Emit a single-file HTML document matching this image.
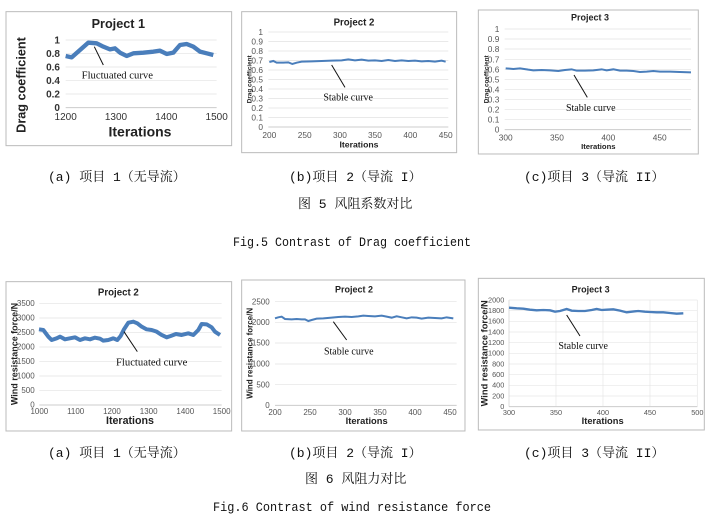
<!DOCTYPE html>
<html><head><meta charset="utf-8"><style>
html,body{margin:0;padding:0;background:#fff;}
svg{display:block;}
.t{font-family:"Liberation Sans",sans-serif;font-weight:bold;fill:#222;}
.k{font-family:"Liberation Sans",sans-serif;fill:#555;}
.s{font-family:"Liberation Serif",serif;fill:#111;}
.c{font-family:"Liberation Mono","Noto Serif CJK SC",monospace;font-size:13px;fill:#111;}
</style></head><body>
<svg width="713" height="522" viewBox="0 0 713 522" xmlns="http://www.w3.org/2000/svg">
<!-- Top a -->
<g transform="scale(0.3333)">
<rect x="18" y="35" width="677" height="402" fill="#fff" stroke="#bbb" stroke-width="3"/>
<g stroke="#e2e2e2" stroke-width="2"><line x1="197" y1="120" x2="650" y2="120"/><line x1="197" y1="161" x2="650" y2="161"/><line x1="197" y1="201" x2="650" y2="201"/><line x1="197" y1="242" x2="650" y2="242"/><line x1="197" y1="282" x2="650" y2="282"/></g>
<line x1="197" y1="323" x2="650" y2="323" stroke="#ccc" stroke-width="3"/>
<g class="k" font-size="30" text-anchor="end" style="font-weight:bold;fill:#333"><text x="180" y="130">1</text><text x="180" y="171">0.8</text><text x="180" y="211">0.6</text><text x="180" y="252">0.4</text><text x="180" y="292">0.2</text><text x="180" y="333">0</text></g>
<g class="k" font-size="30" text-anchor="middle" style="fill:#333"><text x="197" y="360">1200</text><text x="348" y="360">1300</text><text x="499" y="360">1400</text><text x="650" y="360">1500</text></g>
<text class="t" x="355" y="84" font-size="38" text-anchor="middle">Project 1</text>
<text class="t" x="420" y="410" font-size="42" text-anchor="middle">Iterations</text>
<text class="t" font-size="38" text-anchor="middle" transform="translate(77,255) rotate(-90)">Drag coefficient</text>
<polyline fill="none" stroke="#4a7ebb" stroke-width="13" stroke-linejoin="round" points="197,168 215,172 240,150 265,128 290,130 310,140 330,148 345,145 360,158 380,168 400,160 430,158 460,155 480,152 500,162 520,158 540,135 560,132 580,140 600,155 620,160 640,165"/>
<line x1="283" y1="140" x2="310" y2="195" stroke="#111" stroke-width="3"/>
<text class="s" x="245" y="236" font-size="32">Fluctuated curve</text>
</g>
<!-- Top b -->
<g transform="translate(235,0) scale(0.3333)">
<rect x="20" y="35" width="645" height="423" fill="#fff" stroke="#bbb" stroke-width="3"/>
<g stroke="#e2e2e2" stroke-width="2"><line x1="100" y1="96" x2="640" y2="96"/><line x1="100" y1="124.5" x2="640" y2="124.5"/><line x1="100" y1="153" x2="640" y2="153"/><line x1="100" y1="181.5" x2="640" y2="181.5"/><line x1="100" y1="210" x2="640" y2="210"/><line x1="100" y1="238.5" x2="640" y2="238.5"/><line x1="100" y1="267" x2="640" y2="267"/><line x1="100" y1="295.5" x2="640" y2="295.5"/><line x1="100" y1="324" x2="640" y2="324"/><line x1="100" y1="352.5" x2="640" y2="352.5"/></g>
<line x1="100" y1="381" x2="640" y2="381" stroke="#ccc" stroke-width="3"/>
<g class="k" font-size="25" text-anchor="end"><text x="84" y="105">1</text><text x="84" y="133">0.9</text><text x="84" y="162">0.8</text><text x="84" y="190">0.7</text><text x="84" y="219">0.6</text><text x="84" y="247">0.5</text><text x="84" y="276">0.4</text><text x="84" y="304">0.3</text><text x="84" y="333">0.2</text><text x="84" y="361">0.1</text><text x="84" y="390">0</text></g>
<g class="k" font-size="25" text-anchor="middle"><text x="103" y="414">200</text><text x="209" y="414">250</text><text x="315" y="414">300</text><text x="420" y="414">350</text><text x="526" y="414">400</text><text x="632" y="414">450</text></g>
<text class="t" x="357" y="77" font-size="29" text-anchor="middle">Project 2</text>
<text class="t" x="372" y="442" font-size="26" text-anchor="middle">Iterations</text>
<text class="t" font-size="19" text-anchor="middle" transform="translate(50,238) rotate(-90)">Drag coefficient</text>
<polyline fill="none" stroke="#4a7ebb" stroke-width="6" points="103,186 115,183 125,188 145,188 160,187 172,192 185,188 200,185 230,184 260,183 290,182 320,181 340,178 360,181 380,179 400,182 420,181 440,183 460,180 480,183 500,181 520,183 540,182 560,184 580,183 600,185 620,182 632,185"/>
<line x1="290" y1="195" x2="330" y2="262" stroke="#111" stroke-width="3"/>
<text class="s" x="265" y="302" font-size="30">Stable curve</text>
</g>
<!-- Top c -->
<g transform="translate(470,0) scale(0.3333)">
<rect x="25" y="30" width="660" height="432" fill="#fff" stroke="#bbb" stroke-width="3"/>
<g stroke="#e2e2e2" stroke-width="2"><line x1="104" y1="87" x2="663" y2="87"/><line x1="104" y1="117" x2="663" y2="117"/><line x1="104" y1="147" x2="663" y2="147"/><line x1="104" y1="178" x2="663" y2="178"/><line x1="104" y1="208" x2="663" y2="208"/><line x1="104" y1="238" x2="663" y2="238"/><line x1="104" y1="268" x2="663" y2="268"/><line x1="104" y1="298" x2="663" y2="298"/><line x1="104" y1="329" x2="663" y2="329"/><line x1="104" y1="359" x2="663" y2="359"/></g>
<line x1="104" y1="389" x2="663" y2="389" stroke="#ccc" stroke-width="3"/>
<g class="k" font-size="25" text-anchor="end"><text x="88" y="96">1</text><text x="88" y="126">0.9</text><text x="88" y="156">0.8</text><text x="88" y="187">0.7</text><text x="88" y="217">0.6</text><text x="88" y="247">0.5</text><text x="88" y="277">0.4</text><text x="88" y="307">0.3</text><text x="88" y="338">0.2</text><text x="88" y="368">0.1</text><text x="88" y="398">0</text></g>
<g class="k" font-size="25" text-anchor="middle"><text x="107" y="422">300</text><text x="261" y="422">350</text><text x="415" y="422">400</text><text x="569" y="422">450</text></g>
<text class="t" x="360" y="62" font-size="27" text-anchor="middle">Project 3</text>
<text class="t" x="385" y="447" font-size="23" text-anchor="middle">Iterations</text>
<text class="t" font-size="19" text-anchor="middle" transform="translate(55,238) rotate(-90)">Drag coefficient</text>
<polyline fill="none" stroke="#4a7ebb" stroke-width="6" points="107,205 130,207 150,205 175,209 190,211 215,210 240,211 265,213 285,210 305,208 320,212 345,212 370,211 395,208 410,211 430,208 450,212 470,212 490,213 510,216 530,215 550,213 570,215 600,215 630,216 663,217"/>
<line x1="312" y1="225" x2="352" y2="292" stroke="#111" stroke-width="3"/>
<text class="s" x="288" y="333" font-size="30">Stable curve</text>
</g>
<!-- Bottom a -->
<g transform="translate(0,270) scale(0.3333)">
<rect x="18" y="35" width="677" height="448" fill="#fff" stroke="#bbb" stroke-width="3"/>
<g stroke="#e2e2e2" stroke-width="2"><line x1="118" y1="100" x2="665" y2="100"/><line x1="118" y1="144" x2="665" y2="144"/><line x1="118" y1="187" x2="665" y2="187"/><line x1="118" y1="231" x2="665" y2="231"/><line x1="118" y1="274" x2="665" y2="274"/><line x1="118" y1="318" x2="665" y2="318"/><line x1="118" y1="361" x2="665" y2="361"/></g>
<line x1="118" y1="405" x2="665" y2="405" stroke="#ccc" stroke-width="3"/>
<g class="k" font-size="24" text-anchor="end"><text x="104" y="108">3500</text><text x="104" y="152">3000</text><text x="104" y="195">2500</text><text x="104" y="239">2000</text><text x="104" y="282">1500</text><text x="104" y="326">1000</text><text x="104" y="369">500</text><text x="104" y="413">0</text></g>
<g class="k" font-size="24" text-anchor="middle"><text x="118" y="432">1000</text><text x="227" y="432">1100</text><text x="336" y="432">1200</text><text x="446" y="432">1300</text><text x="556" y="432">1400</text><text x="665" y="432">1500</text></g>
<text class="t" x="355" y="76" font-size="29" text-anchor="middle">Project 2</text>
<text class="t" x="390" y="462" font-size="32" text-anchor="middle">Iterations</text>
<text class="t" font-size="27" text-anchor="middle" transform="translate(52,252) rotate(-90)">Wind resistance force/N</text>
<polyline fill="none" stroke="#4a7ebb" stroke-width="12" stroke-linejoin="round" points="117,178 130,180 145,200 155,210 170,205 180,200 195,208 210,205 225,202 240,210 255,205 270,208 285,203 300,206 310,212 325,210 340,205 352,210 362,198 372,178 385,158 400,155 412,160 425,170 440,178 455,180 470,185 485,195 500,202 512,198 528,192 545,195 565,190 580,195 595,180 605,162 620,163 635,172 645,185 660,195"/>
<line x1="372" y1="185" x2="412" y2="245" stroke="#111" stroke-width="3"/>
<text class="s" x="348" y="287" font-size="32">Fluctuated curve</text>
</g>
<!-- Bottom b -->
<g transform="translate(235,275) scale(0.3333)">
<rect x="20" y="15" width="670" height="453" fill="#fff" stroke="#bbb" stroke-width="3"/>
<g stroke="#e2e2e2" stroke-width="2"><line x1="120" y1="80" x2="665" y2="80"/><line x1="120" y1="142" x2="665" y2="142"/><line x1="120" y1="204" x2="665" y2="204"/><line x1="120" y1="267" x2="665" y2="267"/><line x1="120" y1="329" x2="665" y2="329"/></g>
<line x1="120" y1="391" x2="665" y2="391" stroke="#ccc" stroke-width="3"/>
<g class="k" font-size="24" text-anchor="end"><text x="104" y="88">2500</text><text x="104" y="150">2000</text><text x="104" y="212">1500</text><text x="104" y="275">1000</text><text x="104" y="337">500</text><text x="104" y="399">0</text></g>
<g class="k" font-size="24" text-anchor="middle"><text x="120" y="420">200</text><text x="225" y="420">250</text><text x="330" y="420">300</text><text x="435" y="420">350</text><text x="540" y="420">400</text><text x="645" y="420">450</text></g>
<text class="t" x="357" y="52" font-size="27" text-anchor="middle">Project 2</text>
<text class="t" x="395" y="447" font-size="28" text-anchor="middle">Iterations</text>
<text class="t" font-size="24" text-anchor="middle" transform="translate(52,235) rotate(-90)">Wind resistance force/N</text>
<polyline fill="none" stroke="#4a7ebb" stroke-width="6" points="120,130 130,127 140,125 150,132 170,133 185,132 200,133 210,133 220,138 230,135 245,131 265,130 290,128 310,126 330,125 350,126 370,124 385,122 400,123 420,124 440,122 455,125 470,128 485,124 500,127 515,130 530,127 545,128 560,131 580,128 600,129 620,130 635,127 655,130"/>
<line x1="295" y1="140" x2="335" y2="195" stroke="#111" stroke-width="3"/>
<text class="s" x="267" y="238" font-size="30">Stable curve</text>
</g>
<!-- Bottom c -->
<g transform="translate(470,275) scale(0.3333)">
<rect x="25" y="10" width="678" height="455" fill="#fff" stroke="#bbb" stroke-width="3"/>
<g stroke="#e6e6e6" stroke-width="2"><line x1="117" y1="75" x2="682" y2="75"/><line x1="117" y1="107" x2="682" y2="107"/><line x1="117" y1="139" x2="682" y2="139"/><line x1="117" y1="171" x2="682" y2="171"/><line x1="117" y1="203" x2="682" y2="203"/><line x1="117" y1="235" x2="682" y2="235"/><line x1="117" y1="267" x2="682" y2="267"/><line x1="117" y1="299" x2="682" y2="299"/><line x1="117" y1="331" x2="682" y2="331"/><line x1="117" y1="363" x2="682" y2="363"/><line x1="258" y1="75" x2="258" y2="395"/><line x1="399" y1="75" x2="399" y2="395"/><line x1="540" y1="75" x2="540" y2="395"/><line x1="682" y1="75" x2="682" y2="395"/></g>
<line x1="117" y1="395" x2="682" y2="395" stroke="#ccc" stroke-width="3"/>
<line x1="117" y1="75" x2="117" y2="395" stroke="#ccc" stroke-width="2"/>
<g class="k" font-size="22" text-anchor="end"><text x="103" y="82">2000</text><text x="103" y="114">1800</text><text x="103" y="146">1600</text><text x="103" y="178">1400</text><text x="103" y="210">1200</text><text x="103" y="242">1000</text><text x="103" y="274">800</text><text x="103" y="306">600</text><text x="103" y="338">400</text><text x="103" y="370">200</text><text x="103" y="402">0</text></g>
<g class="k" font-size="22" text-anchor="middle"><text x="117" y="420">300</text><text x="258" y="420">350</text><text x="399" y="420">400</text><text x="540" y="420">450</text><text x="682" y="420">500</text></g>
<text class="t" x="362" y="52" font-size="27" text-anchor="middle">Project 3</text>
<text class="t" x="398" y="447" font-size="28" text-anchor="middle">Iterations</text>
<text class="t" font-size="28" text-anchor="middle" transform="translate(52,235) rotate(-90)">Wind resistance force/N</text>
<polyline fill="none" stroke="#4a7ebb" stroke-width="7" points="117,98 140,100 160,101 180,104 200,106 220,105 240,106 255,110 270,108 290,102 305,107 325,108 345,108 365,105 380,102 395,105 410,104 430,103 450,107 470,112 485,110 505,108 525,110 540,111 560,112 580,112 600,114 620,116 640,115"/>
<line x1="290" y1="120" x2="330" y2="183" stroke="#111" stroke-width="3"/>
<text class="s" x="265" y="222" font-size="30">Stable curve</text>
</g>
<!-- Captions -->
<g class="c">
<text x="48" y="181">(a) 项目 1（无导流）</text>
<text x="289" y="181">(b)项目 2（导流 I）</text>
<text x="524" y="181">(c)项目 3（导流 II）</text>
<text x="298" y="208">图 5 风阻系数对比</text>
<text x="233" y="246" textLength="238" lengthAdjust="spacingAndGlyphs">Fig.5 Contrast of Drag coefficient</text>
<text x="48" y="457">(a) 项目 1（无导流）</text>
<text x="289" y="457">(b)项目 2（导流 I）</text>
<text x="524" y="457">(c)项目 3（导流 II）</text>
<text x="305" y="483">图 6 风阻力对比</text>
<text x="213" y="511" textLength="278" lengthAdjust="spacingAndGlyphs">Fig.6 Contrast of wind resistance force</text>
</g>
</svg>
</body></html>
